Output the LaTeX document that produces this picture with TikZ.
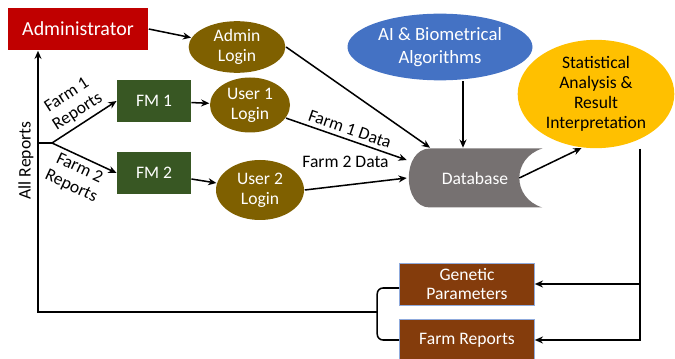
\documentclass[tikz,border=0pt]{standalone}
\usepackage{fontspec}
\setmainfont{Carlito}
\usetikzlibrary{positioning, shapes.geometric, arrows.meta, calc, backgrounds}
\definecolor{adminred}{HTML}{C00000}
\definecolor{loginbrown}{HTML}{7F6000}
\definecolor{fmgreen}{HTML}{385723}
\definecolor{aiblue}{HTML}{4472C4}
\definecolor{statyellow}{HTML}{FFC000}
\definecolor{dbgray}{HTML}{767171}
\definecolor{reportbrown}{HTML}{843C0C}
\definecolor{edgeblue}{HTML}{8FAADC}

\begin{document}
\begin{tikzpicture}[>={Stealth[length=7pt,width=6pt]}, line width=1.3pt, on grid,
  every node/.style={font=\fontsize{15}{17}\selectfont},
  rectbox/.style={rectangle, text=white, align=center, minimum width=2.2cm, minimum height=1.26cm, inner sep=0pt},
  oval/.style={ellipse, text=white, align=center, inner sep=0pt}]
  \useasboundingbox (0,0) rectangle (20.25,-10.77);

  \node[rectbox, fill=adminred, minimum width=4.2cm, font=\fontsize{17}{19}\selectfont] (admin) at (2.34,-0.87) {Administrator};
  \node[oval, fill=loginbrown, minimum width=2.9cm, minimum height=1.55cm] (adminlogin) [below right=0.54cm and 4.77cm of admin] {Admin\\Login};
  \node[rectbox, fill=fmgreen] (fm1) [below right=2.16cm and 2.28cm of admin] {FM 1};
  \node[oval, fill=loginbrown, minimum width=2.4cm, minimum height=1.65cm] (user1) [below right=0.12cm and 2.88cm of fm1] {User 1\\Login};
  \node[rectbox, fill=fmgreen] (fm2) [below=2.16cm of fm1] {FM 2};
  \node[oval, fill=loginbrown, minimum width=2.64cm, minimum height=1.8cm] (user2) [below right=0.51cm and 3.18cm of fm2] {User 2\\Login};
  \node[oval, fill=aiblue, minimum width=5.55cm, minimum height=2cm, font=\fontsize{16}{19}\selectfont] (ai) [right=6.09cm of adminlogin] {AI \& Biometrical\\Algorithms};
  \node[rectangle, text=white, minimum width=4.05cm, minimum height=1.77cm] (db) [below right=3.93cm and 1.05cm of ai] {Database};
  \node[oval, fill=statyellow, text=black, minimum width=4.7cm, minimum height=3.25cm] (stat) [above right=2.52cm and 3.63cm of db] {Statistical\\Analysis \&\\Result\\Interpretation};
  \node[rectbox, fill=reportbrown, draw=edgeblue, line width=0.5pt, minimum width=4.05cm] (genetic) [below left=3.18cm and 0.24cm of db] {Genetic\\Parameters};
  \node[rectbox, fill=reportbrown, draw=edgeblue, line width=0.5pt, minimum width=4.05cm] (farmrep) [below=1.68cm of genetic] {Farm Reports};

  \begin{scope}[on background layer]
    \fill[dbgray, shift={(db.center)}] (-1.35,0.885) -- (2.02,0.885) .. controls (1.1,0.6) and (1.1,-0.6) .. (2.02,-0.885) -- (-1.35,-0.885) .. controls (-2.2,-0.885) and (-2.2,0.885) .. (-1.35,0.885) -- cycle;
  \end{scope}

  \coordinate (aifoot) at ([xshift=0.69cm]ai.south);
  \coordinate (statfoot) at ([xshift=1.32cm]stat.south);
  \coordinate (split) at (1.14,-4.29);
  \coordinate (join) at ($(genetic.west)!0.5!(farmrep.west)+(-0.66,0)$);

  \path[->]
  (admin.east) edge (adminlogin)
  (adminlogin.east) edge ([xshift=0.7cm]db.north west)
  (fm1) edge (user1)
  (fm2) edge (user2)
  (user1.-20) edge node [above, sloped] {Farm 1 Data} ([yshift=0.54cm]db.west)
  (user2.east) edge node [pos=0.4, yshift=0.7cm] {Farm 2 Data} (db.west)
  (aifoot) edge (aifoot |- db.north)
  ([xshift=-0.72cm]db.east) edge (stat.255)
  ;

  \draw[->] (statfoot) |- (genetic.east);
  \draw[->] (statfoot) |- (farmrep.east);
  \draw[rounded corners=5pt] ([yshift=-0.12cm]genetic.west) -| (join) |- (farmrep.west);
  \draw[->] (join) -| node [pos=0.79, rotate=90, anchor=south] {All Reports} ([xshift=-1.2cm]admin.south);
  \draw[->] (split) -- ++(0.42,0) coordinate (fork) -- node [above, sloped, align=center] {Farm 1\\Reports} (fm1.west);
  \draw[->] (fork) -- node [below, sloped, align=center] {Farm 2\\Reports} (fm2.west);
\end{tikzpicture}
\end{document}
